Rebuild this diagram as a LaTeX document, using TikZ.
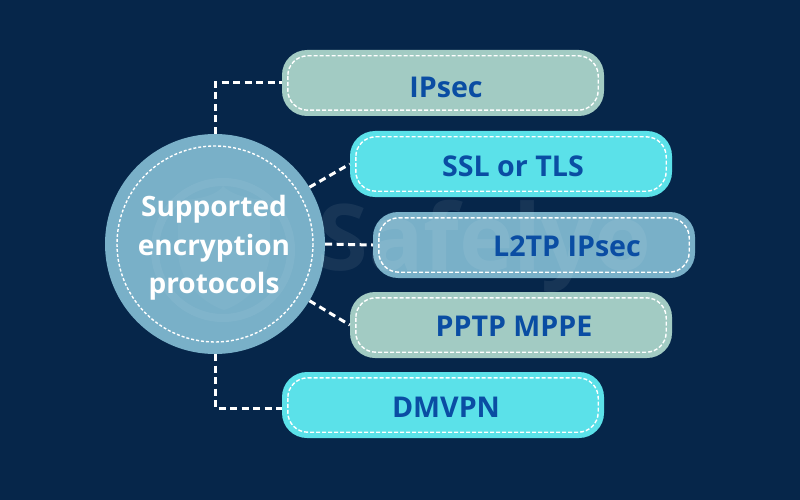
\documentclass[tikz,border=0pt]{standalone}
\usepackage{fontspec}
\setmainfont{Open Sans}
\usetikzlibrary{calc}
\definecolor{bg}{HTML}{06264A}
\definecolor{sage}{HTML}{A2CBC3}
\definecolor{cyanb}{HTML}{5BE1E9}
\definecolor{steel}{HTML}{79B0C8}
\definecolor{ink}{HTML}{0A4DA3}
\tikzset{x=1pt,y=-1pt,
 pill/.style={rounded corners=25pt,minimum width=#1,minimum height=66,inner sep=0pt},
 pilledge/.style={draw=white,line width=1.4pt,dash pattern=on 4pt off 2pt,rounded corners=20pt},
 pilltext/.style={font=\fontsize{28.6}{32}\bfseries,text=ink},
 link/.style={draw=white,line width=3pt,dash pattern=on 7pt off 4.5pt},
 ghost/.style={white,opacity=0.07}}
\newcommand{\pillbox}[5]{% name,cx,cy,width,fill
 \node[pill=#4,fill=#5] (#1) at (#2,#3) {};
 \draw[pilledge] ($(#1.north west)+(6,6)$) rectangle ($(#1.south east)+(-6,-6)$);
}
\begin{document}
\begin{tikzpicture}
\useasboundingbox (0,0) rectangle (800,500);
\fill[bg] (0,0) rectangle (800,500);
\node[circle,minimum size=220,inner sep=0pt,fill=steel] (hub) at (215,244) {};
\coordinate (c1) at (215,83);
\coordinate (c5) at (215,408);
\pillbox{p1}{443}{83}{322}{sage}
\pillbox{p2}{511}{164}{322}{cyanb}
\pillbox{p3}{534}{245}{322}{steel}
\pillbox{p4}{511}{325}{322}{sage}
\pillbox{p5}{443}{405}{322}{cyanb}
\draw[link] (hub.north) -- (c1) -- (c1 -| p1.west);
\draw[link] (hub.31.5) -- (p2.west);
\draw[link] (hub.east) -- (p3.west);
\draw[link] (hub.-31.5) -- (p4.west);
\draw[link] (hub.south) -- (c5) -- (c5 -| p5.west);
\draw[white,line width=1.4pt,dash pattern=on 3pt off 2pt] (hub) circle[radius=98];
% faint watermark
\node[ghost,font=\fontsize{92}{92}\selectfont\bfseries,text opacity=0.07,anchor=west] (wm) at (314,246) {Safelyo};
\draw[ghost,draw opacity=0.06,line width=8pt] (223,250) circle[radius=68];
\fill[ghost,opacity=0.04] (178,200) .. controls (205,200) and (220,192) .. (223,186) .. controls (228,192) and (245,200) .. (270,200) -- (270,250) .. controls (270,285) and (240,305) .. (224,310) .. controls (208,305) and (178,285) .. (178,250) -- cycle;
\node[font=\fontsize{28}{38.5}\bfseries,text=white,align=center] (hubt) at (214,248) {Supported\\encryption\\protocols};
\node[pilltext] (t1) at (446,87) {IPsec};
\node[pilltext] (t2) at (513,166) {SSL or TLS};
\node[pilltext] (t3) at (567,246) {L2TP IPsec};
\node[pilltext] (t4) at (514,326) {PPTP MPPE};
\node[pilltext] (t5) at (446,407) {DMVPN};
\end{tikzpicture}
\end{document}
